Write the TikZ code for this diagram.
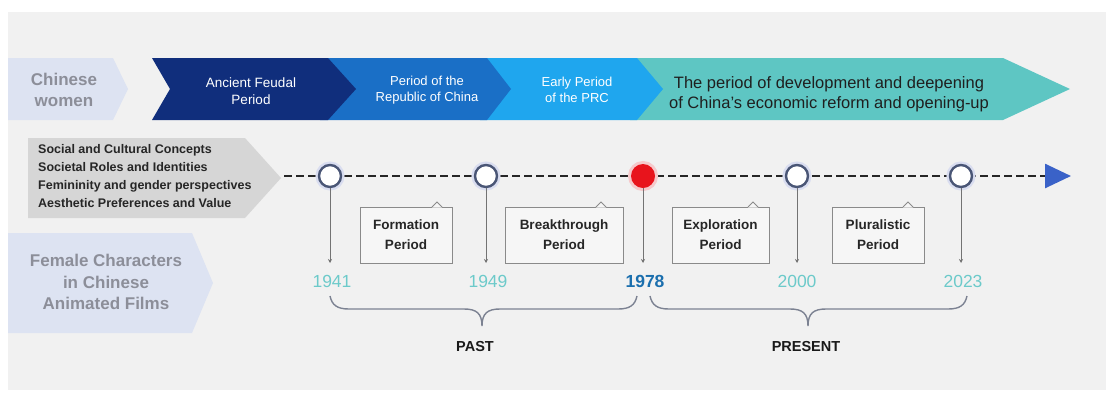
\documentclass[tikz,border=0pt]{standalone}
\usepackage{fontspec}
\setmainfont{Liberation Sans}
\usetikzlibrary{arrows.meta}
\definecolor{bgc}{HTML}{F1F1F1}
\definecolor{navy}{HTML}{102E7C}
\definecolor{midblue}{HTML}{1A6FC6}
\definecolor{brightblue}{HTML}{1FA6EE}
\definecolor{tealc}{HTML}{5EC6C3}
\definecolor{lav}{HTML}{DDE3F2}
\definecolor{graychev}{HTML}{D6D6D6}
\definecolor{labgray}{HTML}{8C8E99}
\definecolor{ringc}{HTML}{4A5676}
\definecolor{glowc}{HTML}{D9DDF0}
\definecolor{redc}{HTML}{E8141C}
\definecolor{redglow}{HTML}{F6C9CB}
\definecolor{arrowblue}{HTML}{3A62C8}
\definecolor{yearc}{HTML}{6CCACA}
\definecolor{yearbold}{HTML}{1B6FAE}
\definecolor{bracec}{HTML}{7C8292}
\definecolor{boxfill}{HTML}{F6F6F6}
\definecolor{boxline}{HTML}{8A8A8A}
\begin{document}
\begin{tikzpicture}[x=1pt,y=-1pt,
  bandtxt/.style={text=white, align=center, font=\fontsize{13}{16}\selectfont},
  sidelab/.style={text=labgray, align=center, font=\bfseries\fontsize{17}{21}\selectfont},
  ring/.style={circle, minimum size=22pt, inner sep=0pt, fill=white, draw=ringc, line width=2.4pt,
    preaction={draw=glowc, line width=7pt}},
  redring/.style={circle, minimum size=24pt, inner sep=0pt, fill=redc,
    preaction={draw=redglow, line width=6pt}},
  vline/.style={draw=black!55, line width=0.9pt, -{Stealth[length=4pt,width=4pt]}},
  perbox/.style={rectangle, draw=boxline, fill=boxfill, line width=0.9pt, minimum height=56pt,
    align=center, inner sep=0pt, font=\bfseries\fontsize{13.5}{20}\selectfont, text=black!85},
  year/.style={text=yearc, font=\fontsize{17.5}{20}\selectfont},
  bracestyle/.style={draw=bracec, line width=1.4pt},
  brlab/.style={font=\bfseries\fontsize{14.5}{17}\selectfont, text=black!90}
]
\useasboundingbox (0,0) rectangle (1106,392);
\fill[white] (0,0) rectangle (1106,392);
\fill[bgc] (8,12) rectangle (1106,390);

% top band
\fill[tealc] (630,58) -- (1003,58) -- (1070,89) -- (1003,120) -- (630,120) -- cycle;
\fill[brightblue] (480,58) -- (637,58) -- (663,89) -- (637,120) -- (480,120) -- cycle;
\fill[midblue] (320,58) -- (487,58) -- (511,89) -- (487,120) -- (320,120) -- cycle;
\fill[navy] (152,58) -- (328,58) -- (356,89) -- (328,120) -- (152,120) -- (170,89) -- cycle;
\fill[lav] (8,58) -- (113,58) -- (128,89) -- (113,120) -- (8,120) -- cycle;

\node[sidelab] (cw) at (64,90) {Chinese\\women};
\node[bandtxt, font=\fontsize{13.5}{17}\selectfont] (anc) at (251,91) {Ancient Feudal\\Period};
\node[bandtxt] (roc) at (427,90) {Period of the\\Republic of China};
\node[bandtxt] (prc) at (577,90) {Early Period\\of the PRC};
\node[align=center, text=black!88, font=\fontsize{16.5}{20}\selectfont] (dev) at (829,94)
  {The period of development and deepening\\of China's economic reform and opening-up};

% left gray chevron
\fill[graychev] (28,138) -- (245,138) -- (281,178) -- (245,218) -- (28,218) -- cycle;
\node[anchor=west, align=left, inner sep=0pt, text=black!85, font=\bfseries\fontsize{12.5}{17.7}\selectfont] (cats) at (38,176)
  {Social and Cultural Concepts\\Societal Roles and Identities\\Femininity and gender perspectives\\Aesthetic Preferences and Value};

% female characters chevron
\fill[lav] (8,233) -- (192,233) -- (213,283) -- (192,333) -- (8,333) -- cycle;
\node[sidelab, font=\bfseries\fontsize{17}{21.5}\selectfont] (fc) at (106,282) {Female Characters\\in Chinese\\Animated Films};

% timeline
\coordinate (tstart) at (284,176);
\coordinate (tend) at (1071,176);
\draw[black!85, line width=2.6pt, dash pattern=on 8pt off 4pt,
  -{Triangle[length=26pt,width=24pt,color=arrowblue,fill=arrowblue]}] (tstart) -- (tend);

\node[ring] (c1) at (330,176) {};
\node[ring] (c2) at (486,176) {};
\node[redring] (c3) at (643,176) {};
\node[ring] (c4) at (797,176) {};
\node[ring] (c5) at (961,176) {};

\coordinate (e1) at (330,263);
\coordinate (e2) at (486,263);
\coordinate (e3) at (643,263);
\coordinate (e4) at (797,263);
\coordinate (e5) at (961,263);
\draw[vline] (c1) -- (e1);
\draw[vline] (c2) -- (e2);
\draw[vline] (c3) -- (e3);
\draw[vline] (c4) -- (e4);
\draw[vline] (c5) -- (e5);

% period boxes
\node[perbox, minimum width=92pt] (b1) at (406,235) {Formation\\Period};
\node[perbox, minimum width=118pt] (b2) at (564,235) {Breakthrough\\Period};
\node[perbox, minimum width=97pt] (b3) at (720.5,235) {Exploration\\Period};
\node[perbox, minimum width=92pt] (b4) at (878,235) {Pluralistic\\Period};
\foreach \b/\nx in {b1/437,b2/601,b3/753,b4/908}{
  \fill[boxfill] (\nx-5,207.5) -- (\nx,202) -- (\nx+5,207.5) -- cycle;
  \draw[boxline, line width=0.9pt] (\nx-5,207) -- (\nx,202) -- (\nx+5,207);
}

% years
\node[year] (y1) at (332,281) {1941};
\node[year] (y2) at (488,281) {1949};
\node[year, text=yearbold, font=\bfseries\fontsize{17.5}{20}\selectfont] (y3) at (645,281) {1978};
\node[year] (y4) at (797,281) {2000};
\node[year] (y5) at (963,281) {2023};

% braces
\draw[bracestyle] (330,296) .. controls (332,305) and (337,309) .. (349,309) -- (464,309)
  .. controls (476,309) and (482,313) .. (482,326)
  .. controls (482,313) and (488,309) .. (500,309) -- (618,309)
  .. controls (630,309) and (635,305) .. (637,296);
\draw[bracestyle] (650,296) .. controls (652,305) and (657,309) .. (669,309) -- (790,309)
  .. controls (802,309) and (808,313) .. (808,326)
  .. controls (808,313) and (814,309) .. (826,309) -- (948,309)
  .. controls (960,309) and (965,305) .. (967,296);
\node[brlab] (past) at (475,346) {PAST};
\node[brlab] (present) at (806,346) {PRESENT};
\end{tikzpicture}
\end{document}
